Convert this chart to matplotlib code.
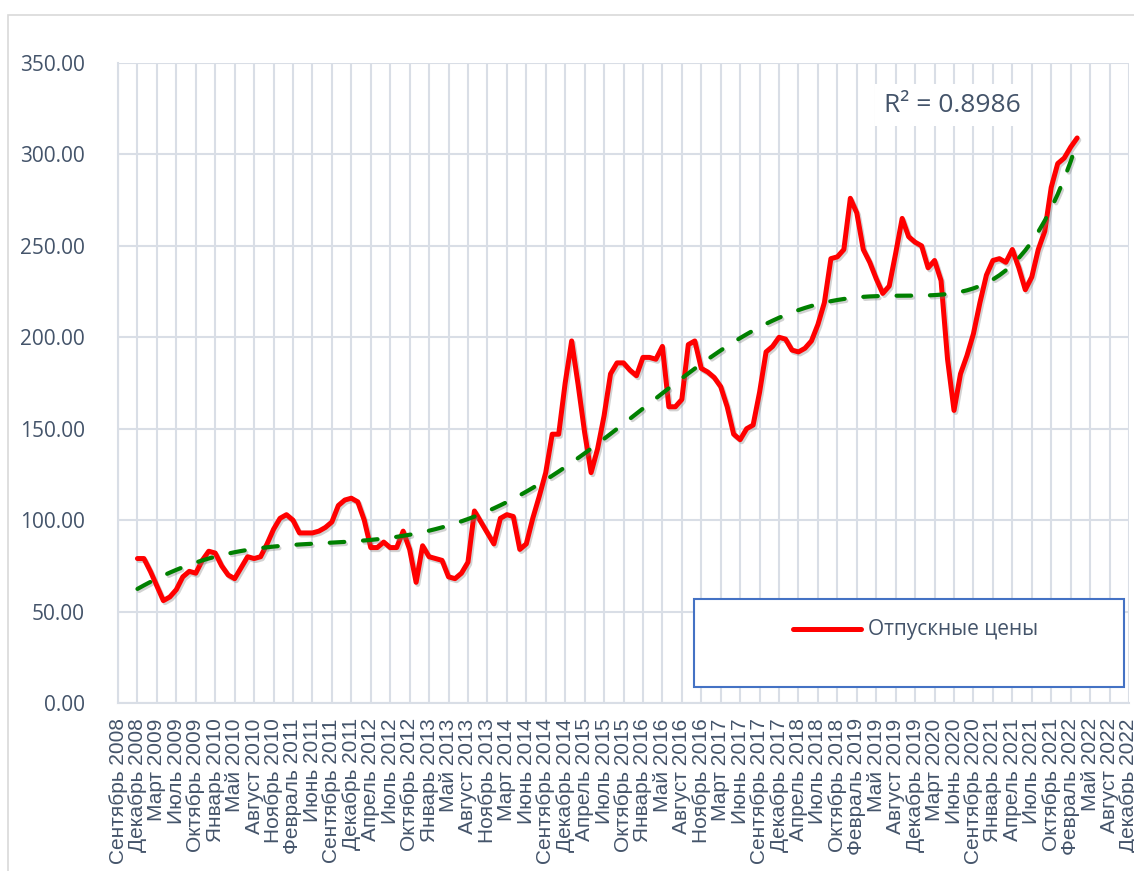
import numpy as np
import matplotlib
matplotlib.use("Agg")
import matplotlib.pyplot as plt
import matplotlib.patheffects as pe
from matplotlib.patches import Rectangle
from matplotlib.lines import Line2D

# подписи оси X (каждая третья категория)
tick_labels = [
    "Сентябрь 2008", "Декабрь 2008", "Март 2009", "Июль 2009", "Октябрь 2009",
    "Январь 2010", "Май 2010", "Август 2010", "Ноябрь 2010", "Февраль 2011",
    "Июнь 2011", "Сентябрь 2011", "Декабрь 2011", "Апрель 2012", "Июль 2012",
    "Октябрь 2012", "Январь 2013", "Май 2013", "Август 2013", "Ноябрь 2013",
    "Март 2014", "Июнь 2014", "Сентябрь 2014", "Декабрь 2014", "Апрель 2015",
    "Июль 2015", "Октябрь 2015", "Январь 2016", "Май 2016", "Август 2016",
    "Ноябрь 2016", "Март 2017", "Июнь 2017", "Сентябрь 2017", "Декабрь 2017",
    "Апрель 2018", "Июль 2018", "Октябрь 2018", "Февраль 2019", "Май 2019",
    "Август 2019", "Декабрь 2019", "Март 2020", "Июнь 2020", "Сентябрь 2020",
    "Январь 2021", "Апрель 2021", "Июль 2021", "Октябрь 2021", "Февраль 2022",
    "Май 2022", "Август 2022", "Декабрь 2022",
]
label_step = 3
n_categories = 157
first_index = 3  # первые категории пустые

prices = [
    79, 79, 72, 64, 56, 58, 62, 69, 72, 71,
    78, 83, 82, 75, 70, 68, 74, 80, 79, 80,
    87, 95, 101, 103, 100, 93, 93, 93, 94, 96,
    99, 108, 111, 112, 110, 100, 85, 85, 88, 85,
    85, 94, 84, 66, 86, 80, 79, 78, 69, 68,
    71, 77, 105, 99, 93, 87, 101, 103, 102, 84,
    87, 101, 113, 126, 147, 147, 175, 198, 174, 148,
    126, 139, 157, 180, 186, 186, 182, 179, 189, 189,
    188, 195, 162, 162, 166, 196, 198, 183, 181, 178,
    173, 162, 147, 144, 150, 152, 170, 192, 195, 200,
    199, 193, 192, 194, 198, 207, 219, 243, 244, 248,
    276, 268, 248, 241, 232, 224, 228, 246, 265, 255,
    252, 250, 238, 242, 231, 188, 160, 180, 190, 202,
    219, 234, 242, 243, 241, 248, 238, 226, 233, 248,
    258, 282, 295, 298, 304, 309,
]
series_name = "Отпускные цены"
r2_text = "R² = 0.8986"

x = np.arange(first_index, first_index + len(prices))
y = np.array(prices, dtype=float)

# полиномиальный тренд
coef = np.polyfit(x, y, 6)
trend = np.polyval(coef, x)

text_color = "#44546a"
grid_color = "#d9dee6"

fig = plt.figure(figsize=(11.34, 8.71), dpi=100)
ax = fig.add_axes([118 / 1134, 1 - 703 / 871, (1129 - 118) / 1134, (703 - 63) / 871])

# рамка диаграммы
fig.add_artist(Rectangle((8 / 1134, -0.1), 1.2, 1 - 15 / 871 + 0.1, transform=fig.transFigure,
                         fill=False, edgecolor="#d9d9d9", linewidth=1.2))

shadow = [pe.SimpleLineShadow(offset=(1.2, -1.5), shadow_color="#808080", alpha=0.35), pe.Normal()]

ax.plot(x, y, color="#ff0000", linewidth=3.6, solid_joinstyle="round", solid_capstyle="round",
        path_effects=shadow, zorder=3)
ax.plot(x, trend, color="#008000", linewidth=3.0, dashes=(3.5, 4.5), dash_capstyle="round",
        path_effects=shadow, zorder=4)

ax.set_xlim(0, n_categories - 1)
ax.set_ylim(0, 350)
ax.set_yticks(np.arange(0, 351, 50))
ax.set_yticklabels([f"{v:.2f}" for v in np.arange(0, 351, 50)], fontsize=15,
                   color=text_color, family="Open Sans")
ax.set_xticks(np.arange(0, n_categories, label_step))
ax.set_xticklabels(tick_labels, rotation=90, fontsize=15, color=text_color,
                   family="Liberation Sans", va="top", ha="center")
ax.tick_params(axis="both", length=0)
ax.tick_params(axis="y", pad=24)
ax.tick_params(axis="x", pad=11)

ax.grid(True, color=grid_color, linewidth=1.5)
ax.set_axisbelow(True)
for side in ["top", "right"]:
    ax.spines[side].set_visible(False)
for side in ["left", "bottom"]:
    ax.spines[side].set_color(grid_color)
    ax.spines[side].set_linewidth(1.5)

ax.text(952 / 1134, 1 - 105 / 871, r2_text, transform=fig.transFigure, ha="center", va="center",
        fontsize=19, color=text_color, family="Open Sans",
        bbox=dict(facecolor="white", edgecolor="none", pad=6), zorder=6)

# легенда
fig.add_artist(Rectangle((694 / 1134, 1 - 687 / 871), (1124 - 694) / 1134, (687 - 599) / 871,
                         transform=fig.transFigure, facecolor="white", edgecolor="#4472c4",
                         linewidth=1.5, zorder=5))
fig.add_artist(Line2D([793 / 1134, 861 / 1134], [1 - 629 / 871, 1 - 629 / 871],
                      transform=fig.transFigure, color="#ff0000", linewidth=3.6,
                      solid_capstyle="round", zorder=6))
fig.text(868 / 1134, 1 - 629 / 871, series_name, ha="left", va="center", fontsize=15,
         color=text_color, family="Open Sans", zorder=6)

fig.savefig("out.png", dpi=100)
